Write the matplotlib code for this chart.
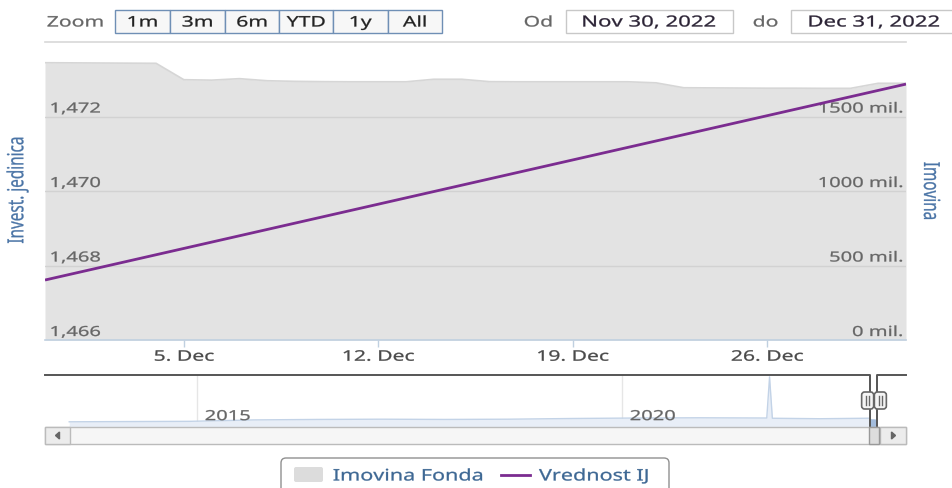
import numpy as np
import pandas as pd
import matplotlib
matplotlib.use("Agg")
import matplotlib.pyplot as plt
import matplotlib.dates as mdates
from matplotlib.patches import Rectangle, FancyBboxPatch, Polygon
from matplotlib.patheffects import AbstractPathEffect
from matplotlib.transforms import Affine2D, offset_copy
from matplotlib.path import Path

plt.rcParams['font.family'] = ['Noto Sans', 'DejaVu Sans']

# ---------------- data ----------------
area_dates = pd.date_range("2022-11-30", "2022-12-31", freq="D")
imovina_mil = [1861, 1860, 1859, 1858, 1857, 1747, 1744, 1754, 1740, 1736,
               1734, 1733, 1733, 1733, 1750, 1750, 1734, 1733, 1733, 1733,
               1733, 1733, 1726, 1693, 1692, 1691, 1690, 1690, 1689, 1689,
               1723, 1723]
ij_dates = pd.to_datetime(["2022-11-30", "2022-12-31"])
ij_values = [1.46761, 1.47287]

nav_dates = pd.to_datetime(["2013-07-01", "2014-03-01", "2014-12-01", "2015-09-01",
                            "2016-06-01", "2017-03-01", "2017-12-01", "2018-09-01",
                            "2019-06-01", "2020-03-01", "2020-12-01", "2021-09-14",
                            "2021-09-26", "2021-10-08", "2022-05-01", "2022-11-30"])
nav_values = [1100, 1150, 1200, 1500, 1600, 1650, 1600, 1650,
              1800, 1900, 1950, 1900, 10600, 1850, 1750, 1861]

left_ticks = [1.466, 1.468, 1.470, 1.472]
right_ticks = [0, 500, 1000, 1500]
x_tick_dates = pd.to_datetime(["2022-12-05", "2022-12-12", "2022-12-19", "2022-12-26"])
x_tick_labels = ["5. Dec", "12. Dec", "19. Dec", "26. Dec"]
nav_year_ticks = pd.to_datetime(["2015-01-01", "2020-01-01"])
nav_year_labels = ["2015", "2020"]
range_buttons = ["1m", "3m", "6m", "YTD", "1y", "All"]
date_from, date_to = "Nov 30, 2022", "Dec 31, 2022"

# ---------------- helpers ----------------
SX = 1.45


class Stretch(AbstractPathEffect):
    def __init__(self, sx=SX, anchor="center", stroke=0.2):
        super().__init__()
        self.sx = sx
        self.anchor = anchor
        self.stroke = stroke

    def draw_path(self, renderer, gc, tpath, affine, rgbFace=None):
        v = tpath.vertices
        if tpath.codes is not None:
            v = v[tpath.codes != Path.CLOSEPOLY]
        if len(v) == 0:
            return
        d = affine.transform(v)
        x0, x1 = d[:, 0].min(), d[:, 0].max()
        a = {"left": x0, "right": x1, "center": 0.5 * (x0 + x1)}[self.anchor]
        aff = affine + Affine2D().translate(-a, 0).scale(self.sx, 1).translate(a, 0)
        gc0 = renderer.new_gc()
        gc0.copy_properties(gc)
        if rgbFace is not None and self.stroke:
            gc0.set_foreground(rgbFace)
            gc0.set_linewidth(self.stroke)
        renderer.draw_path(gc0, tpath, aff, rgbFace)
        gc0.restore()


def T(axx, x, y, s, ha="left", va="center", sx=SX, rotation=0, **kw):
    t = axx.text(x, y, s, ha=ha, va=va, rotation=rotation, **kw)
    t.set_path_effects([Stretch(sx, "center" if rotation else ha)])
    return t


W, H = 953, 488
fig = plt.figure(figsize=(W / 100, H / 100), dpi=100)


def fx(px):
    return px / W


def fy(py):
    return 1 - py / H


# ---------------- main chart ----------------
x0, x1, ytop, ybot = 45, 906, 42, 340
ax = fig.add_axes([fx(x0), fy(ybot), fx(x1 - x0), (ybot - ytop) / H])
ax.fill_between(area_dates, 0, imovina_mil, color="#e3e3e3", lw=0, zorder=1)
ax.plot(area_dates, imovina_mil, color="#d6d6d6", lw=1.2, zorder=1.5)
ax.set_ylim(0, 2000)
xmin, xmax = pd.Timestamp("2022-11-30"), pd.Timestamp("2022-12-31")
ax.set_xlim(xmin, xmax)
for v in [500, 1000, 1500]:
    ax.axhline(v, color="#d2d2d2", lw=1, zorder=2)
ax.axhline(2000, color="#d8d8d8", lw=1.2, zorder=2, clip_on=False)
for s in ["top", "left", "right"]:
    ax.spines[s].set_visible(False)
ax.spines["bottom"].set_color("#c0d0e0")
ax.spines["bottom"].set_linewidth(1.2)
ax.spines["bottom"].set_zorder(3)
ax.set_yticks([])
ax.set_xticks(x_tick_dates, x_tick_labels)
ax.tick_params(axis="x", color="#c0d0e0", length=5, width=1, pad=2,
               labelsize=10.5, labelcolor="#4a4a4a")
for t in ax.get_xticklabels():
    t.set_path_effects([Stretch(SX, "center")])

rtrans = offset_copy(ax.get_yaxis_transform(), fig=fig, y=4, units="dots")
for v in right_ticks:
    T(ax, 1 - 3 / (x1 - x0), v, f"{v} mil.", ha="right", va="baseline",
      transform=rtrans, fontsize=10, color="#666666", zorder=4)

ax2 = ax.twinx()
ax2.plot(ij_dates, ij_values, color="#7b2c90", lw=2, zorder=5, solid_capstyle="butt")
ax2.set_ylim(1.466, 1.474)
ax2.set_xlim(xmin, xmax)
ax2.set_yticks([])
for s in ax2.spines.values():
    s.set_visible(False)
ltrans = offset_copy(ax2.get_yaxis_transform(), fig=fig, y=4, units="dots")
for v in left_ticks:
    T(ax2, 5 / (x1 - x0), v, f"{v:.3f}".replace(".", ","), ha="left", va="baseline",
      transform=ltrans, fontsize=10, color="#666666", zorder=1)

# ---------------- navigator ----------------
nav_top, nav_bot = 375, 427
axn = fig.add_axes([fx(x0), fy(nav_bot), fx(x1 - x0), (nav_bot - nav_top) / H])
n2015 = mdates.date2num(pd.Timestamp("2015-01-01"))
n2020 = mdates.date2num(pd.Timestamp("2020-01-01"))
ppd = (622 - 197) / (n2020 - n2015)
axn.set_xlim(n2015 - (197 - x0) / ppd, n2015 + (x1 - 197) / ppd)
axn.set_ylim(0, 11000)
axn.axis("off")
for d in nav_year_ticks:
    axn.axvline(mdates.date2num(d), color="#e6e6e6", lw=1, zorder=0)
axn.fill_between(mdates.date2num(nav_dates), 0, nav_values, color="#e8eef7", lw=0, zorder=1)
axn.plot(mdates.date2num(nav_dates), nav_values, color="#c3d3e7", lw=1, zorder=2)
axn.fill_between(mdates.date2num(area_dates), 0, imovina_mil, color="#a3bcdc", lw=0, zorder=2)
ntr = offset_copy(axn.get_xaxis_transform(), fig=fig, x=8, y=0, units="dots")
for d, lab in zip(nav_year_ticks, nav_year_labels):
    T(axn, mdates.date2num(d), 0.2, lab, ha="left", va="center", transform=ntr,
      fontsize=10, color="#666666")
xs = mdates.date2num(xmin)
xe = mdates.date2num(xmax)
xl, xr = axn.get_xlim()
tr = axn.get_xaxis_transform()
axn.plot([xl, xs, xs], [1, 1, 0], transform=tr, color="#555555", lw=1.4, clip_on=False, zorder=5)
axn.plot([xe, xe, xr], [0, 1, 1], transform=tr, color="#555555", lw=1.4, clip_on=False, zorder=5)

# ---------------- overlay (UI) ----------------
ov = fig.add_axes([0, 0, 1, 1])
ov.set_xlim(0, W)
ov.set_ylim(H, 0)
ov.axis("off")
ov.patch.set_alpha(0)

TY = 23
# range selector
T(ov, 47, TY, "Zoom", ha="left", fontsize=10.5, color="#666666")
edges = [115, 170, 225, 279, 333, 388, 442]
for i, lab in enumerate(range_buttons):
    ov.add_patch(Rectangle((edges[i], 10), edges[i + 1] - edges[i], 23,
                           facecolor="#f7f7f7", edgecolor="#6f8fb5", lw=1))
    T(ov, (edges[i] + edges[i + 1]) / 2, TY, lab, ha="center", fontsize=10.5, color="#222222")

T(ov, 524, TY, "Od", ha="left", fontsize=10.5, color="#666666")
ov.add_patch(Rectangle((566, 10), 167, 23, facecolor="white", edgecolor="#c8c8c8", lw=1))
T(ov, 649, TY, date_from, ha="center", fontsize=11, color="#2b2335")
T(ov, 753, TY, "do", ha="left", fontsize=10.5, color="#666666")
ov.add_patch(Rectangle((791, 10), 175, 23, facecolor="white", edgecolor="#c8c8c8", lw=1, clip_on=False))
T(ov, 874, TY, date_to, ha="center", fontsize=11, color="#2b2335")

# axis titles
T(ov, 18, 190, "Invest. jedinica", ha="center", rotation=90, fontsize=11, color="#4a74a6")
T(ov, 930, 191, "Imovina", ha="center", rotation=270, fontsize=11, color="#4a74a6")

# scrollbar
sb_top, sb_h = 427, 17
ov.add_patch(Rectangle((45, sb_top), 861, sb_h, facecolor="#f6f6f6", edgecolor="#bbbbbb", lw=1))
ov.add_patch(Rectangle((45, sb_top), 25, sb_h, facecolor="#ececec", edgecolor="#bbbbbb", lw=1))
ov.add_patch(Rectangle((880, sb_top), 26, sb_h, facecolor="#ececec", edgecolor="#bbbbbb", lw=1))
ov.add_patch(Polygon([[59.5, 432], [59.5, 439], [55.5, 435.5]], closed=True, color="#666666"))
ov.add_patch(Polygon([[891.5, 432], [891.5, 439], [895.5, 435.5]], closed=True, color="#666666"))
px_s = axn.transData.transform((xs, 0))[0]
px_e = axn.transData.transform((xe, 0))[0]
ov.add_patch(Rectangle((px_s - 1, sb_top), (px_e - px_s) + 3, sb_h,
                       facecolor="#dddddd", edgecolor="#999999", lw=1))
# navigator handles
for cx in [px_s - 2, px_e + 3.5]:
    ov.add_patch(FancyBboxPatch((cx - 6, 392), 12, 17,
                                boxstyle="round,pad=0,rounding_size=3",
                                facecolor="#f4f4f4", edgecolor="#666666", lw=1.2, zorder=6))
    for dx in (-1.5, 1.5):
        ov.plot([cx + dx, cx + dx], [396, 405], color="#666666", lw=1, zorder=7)

# legend
ov.add_patch(FancyBboxPatch((281, 458), 388, 40, boxstyle="round,pad=0,rounding_size=5",
                            facecolor="white", edgecolor="#909090", lw=1, clip_on=False))
ov.add_patch(FancyBboxPatch((294, 467), 29, 15, boxstyle="round,pad=0,rounding_size=2",
                            facecolor="#dcdcdc", edgecolor="none"))
T(ov, 333, 476.5, "Imovina Fonda", ha="left", fontsize=11.5, color="#3e6894", sx=1.35)
ov.plot([501, 530], [475, 475], color="#7b2c90", lw=2)
T(ov, 539, 476.5, "Vrednost IJ", ha="left", fontsize=11.5, color="#3e6894", sx=1.35)

fig.savefig("out.png", dpi=100)
